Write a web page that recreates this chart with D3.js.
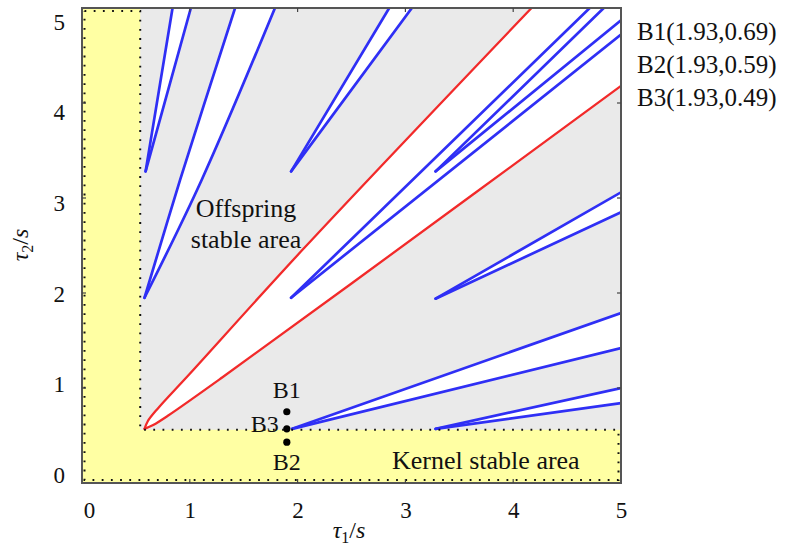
<!DOCTYPE html>
<html><head><meta charset="utf-8">
<script src="https://cdn.jsdelivr.net/npm/d3@7"></script>
<style>
body{margin:0;background:#fff}
</style></head>
<body><svg id="c" width="793" height="547"></svg>
<script>
// ---- data ----
const xTicks = [0,1,2,3,4,5];
const yTicks = [0,1,2,3,4,5];
const kernelBound = [0.54, 0.56];          // tau1, tau2 limits of kernel stable area
const redUpper = [[0.58,0.57],[0.61,0.65],[0.7,0.78],[1.0,1.15],[2.05,2.46],[4.17,5.0]];
const redLower = [[0.58,0.57],[0.66,0.61],[0.8,0.71],[1.3,1.11],[2.5,2.1],[5.0,4.18]];
const wedgeA = [[[0.59,3.28],[0.84,5.0]], [[0.59,3.28],[1.01,5.0]]];
const wedgeB = [[[0.58,1.95],[0.91,3.19],[1.42,5.0]], [[0.58,1.95],[1.11,3.19],[1.79,5.0]]];
const wedgeC = [[[1.94,3.28],[2.85,5.0]], [[1.94,3.28],[3.06,5.0]]];
const wedgeD = [[[1.94,1.95],[4.71,5.0]], [[1.94,1.95],[5.0,4.72]]];
const wedgeE = [[[3.28,3.28],[4.84,5.0]], [[3.28,3.28],[5.0,4.87]]];
const wedgeF = [[[3.28,1.94],[5.0,3.06]], [[3.28,1.94],[5.0,2.85]]];
const wedgeG = [[[1.95,0.57],[5.0,1.79]], [[1.95,0.57],[5.0,1.42]]];
const wedgeH = [[[3.28,0.57],[5.0,1.00]], [[3.28,0.57],[5.0,0.84]]];
const blueWedges = [wedgeA, wedgeB, wedgeC, wedgeD, wedgeE, wedgeF, wedgeG, wedgeH];
const pointNames = ["B1","B2","B3"];
const pointLegend = ["B1(1.93,0.69)","B2(1.93,0.59)","B3(1.93,0.49)"];
const pointX = [1.90, 1.90, 1.90];
const pointY = [0.75, 0.43, 0.57];

// ---- setup ----
const FONT = '"Liberation Serif","Times New Roman",serif';
const svg = d3.select("#c");
const x = d3.scaleLinear([0,5],[82,621]);
const y = d3.scaleLinear([0,5],[483,8]);
const yLab = d3.scaleLinear([0,5],[475,22]);
const BLUE = "#2f2ff5", RED = "#f22a2a";

svg.append("defs").append("clipPath").attr("id","clip")
  .append("rect").attr("x",x(0)).attr("y",y(5)).attr("width",x(5)-x(0)).attr("height",y(0)-y(5));
const plot = svg.append("g").attr("clip-path","url(#clip)");

plot.append("rect").attr("x",x(0)).attr("y",y(5)).attr("width",x(5)-x(0)).attr("height",y(0)-y(5))
  .attr("fill","#eaeaea");

const [bx, by] = kernelBound;
const yellowPts = [[0,5],[bx,5],[bx,by],[5,by],[5,0],[0,0]];
const lin = d3.line().x(d=>x(d[0])).y(d=>y(d[1]));
plot.append("path").attr("d", lin(yellowPts)+"Z").attr("fill","#ffffa3");

const line = d3.line().x(d=>x(d[0])).y(d=>y(d[1])).curve(d3.curveCatmullRom);
// white wedge: first edge, (corner if needed), second edge reversed
function wedgePath(e1, e2, ln){
  const end1 = e1[e1.length-1], end2 = e2[e2.length-1];
  let d = ln(e1);
  if (end1[1] >= 5 && end2[0] >= 5) d += "L" + x(5) + "," + y(5);
  d += ln(e2.slice().reverse()).replace(/^M/, "L");
  return d + "Z";
}
plot.append("path").attr("d", wedgePath(redUpper, redLower, line)).attr("fill","#fff");
blueWedges.forEach(w=>{
  plot.append("path").attr("d", wedgePath(w[0], w[1], line)).attr("fill","#fff");
});

const L = x(0)+2.5, R = x(5)-2.5, T = y(5)+3, B = y(0)-3;
const dotPts = [[L,T],[x(bx),T],[x(bx),y(by)],[R,y(by)],[R,B],[L,B],[L,T]];
svg.append("path").attr("d", d3.line()(dotPts)).attr("fill","none")
  .attr("stroke","#111").attr("stroke-width",2).attr("stroke-dasharray","1.8 7.4");

blueWedges.forEach(w=>{
  w.forEach(edge=>{
    plot.append("path").attr("d", line(edge)).attr("fill","none")
      .attr("stroke",BLUE).attr("stroke-width",2.7).attr("stroke-linejoin","round").attr("stroke-linecap","round");
  });
});
[redUpper, redLower].forEach(edge=>{
  plot.append("path").attr("d", line(edge)).attr("fill","none")
    .attr("stroke",RED).attr("stroke-width",2.3).attr("stroke-linecap","round");
});

svg.append("rect").attr("x",x(0)).attr("y",y(5)).attr("width",x(5)-x(0)).attr("height",y(0)-y(5))
  .attr("fill","none").attr("stroke","#555").attr("stroke-width",2);

const tk = svg.append("g").attr("stroke","#444").attr("stroke-width",1.2);
xTicks.slice(1,5).forEach(v=>{
  tk.append("line").attr("x1",x(v)).attr("x2",x(v)).attr("y1",y(0)).attr("y2",y(0)-4);
  tk.append("line").attr("x1",x(v)).attr("x2",x(v)).attr("y1",y(5)).attr("y2",y(5)+4);
});
yTicks.slice(1,5).forEach(v=>{
  tk.append("line").attr("y1",y(v)).attr("y2",y(v)).attr("x1",x(5)).attr("x2",x(5)-4);
  tk.append("line").attr("y1",y(v)).attr("y2",y(v)).attr("x1",x(0)).attr("x2",x(0)+4);
});

const xAx = svg.append("g").attr("transform","translate(0,499)")
  .call(d3.axisBottom(x).tickValues(xTicks).tickSize(0).tickFormat(d3.format("d")));
xAx.select(".domain").remove();
xAx.selectAll("text").style("font-family",FONT).style("font-size","23px").attr("dy","0.71em").attr("fill","#111");
xAx.selectAll("text").filter(d=>d===0).attr("dx","7");
const yAx = svg.append("g").attr("transform","translate(68,0)")
  .call(d3.axisLeft(yLab).tickValues(yTicks).tickSize(0).tickFormat(d3.format("d")));
yAx.select(".domain").remove();
yAx.selectAll("text").style("font-family",FONT).style("font-size","23px").attr("fill","#111");

function txt(sel){ return sel.style("font-family",FONT).attr("fill","#111"); }

const xt = txt(svg.append("text")).attr("x",349).attr("y",538).attr("text-anchor","middle").style("font-size","24px");
xt.append("tspan").text("τ").style("font-style","italic");
xt.append("tspan").text("1").style("font-size","16px").attr("dy",5);
xt.append("tspan").text("/").attr("dy",-5);
xt.append("tspan").text("s").style("font-style","italic");
const yt = txt(svg.append("text")).attr("transform","translate(28,245) rotate(-90)").attr("text-anchor","middle").style("font-size","24px");
yt.append("tspan").text("τ").style("font-style","italic");
yt.append("tspan").text("2").style("font-size","16px").attr("dy",5);
yt.append("tspan").text("/").attr("dy",-5);
yt.append("tspan").text("s").style("font-style","italic");

txt(svg.append("text")).attr("x",246).attr("y",217).attr("text-anchor","middle").style("font-size","26px").text("Offspring");
txt(svg.append("text")).attr("x",246).attr("y",248).attr("text-anchor","middle").style("font-size","26px").text("stable area");
txt(svg.append("text")).attr("x",392).attr("y",469).style("font-size","26px").text("Kernel stable area");

pointNames.forEach((n,i)=>{
  svg.append("circle").attr("cx",x(pointX[i])).attr("cy",y(pointY[i])).attr("r",3.6).attr("fill","#000");
});
const px = x(pointX[0]);
txt(svg.append("text")).attr("x",px).attr("y",y(pointY[0])-14).attr("text-anchor","middle").style("font-size","24px").text(pointNames[0]);
txt(svg.append("text")).attr("x",px).attr("y",y(pointY[1])+28).attr("text-anchor","middle").style("font-size","24px").text(pointNames[1]);
txt(svg.append("text")).attr("x",px-8).attr("y",y(pointY[2])+3).attr("text-anchor","end").style("font-size","24px").text(pointNames[2]);

pointLegend.forEach((t,i)=>{
  txt(svg.append("text")).attr("x",637).attr("y",40+i*33).style("font-size","25px").text(t);
});
</script></body></html>
